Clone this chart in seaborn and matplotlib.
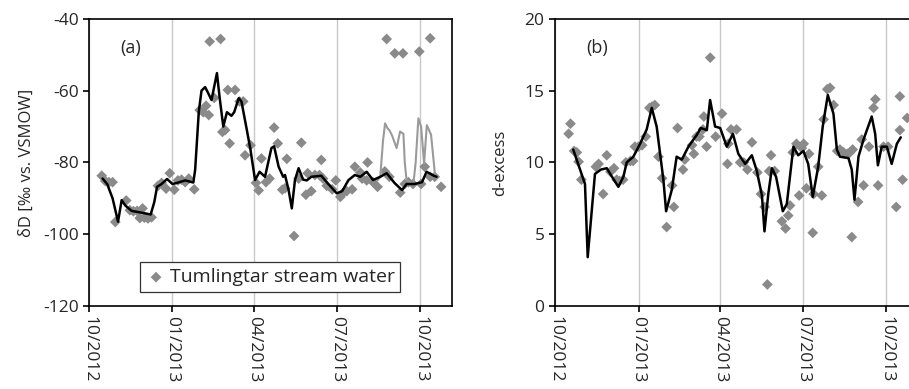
import pandas as pd
import seaborn as sns
import matplotlib.pyplot as plt
import matplotlib.dates as mdates

start = pd.Timestamp('2012-10-01')

# (a) dD stream water samples: days since 2012-10-01, value
pts_a_day = [14, 18, 22, 26, 29, 41, 45, 49, 53, 56, 59, 61, 65, 69, 76, 80, 85, 89, 94, 98,
             102, 106, 110, 116, 122, 126, 129, 132, 133, 138, 145, 147, 150, 155, 153, 161,
             170, 166, 172, 178, 184, 187, 190, 195, 199, 204, 208, 213, 216, 218, 226, 231,
             234, 239, 241, 245, 249, 254, 256, 258, 262, 268, 272, 277, 280, 284, 290, 293,
             299, 301, 307, 306, 313, 318, 326, 328, 331, 337, 346, 343, 348, 352, 357, 364,
             366, 370, 376, 376, 381, 388]
pts_a_val = [-83.7, -85.2, -85.5, -85.5, -96.6, -90.6, -93.3, -93.6, -93.5, -95.5, -92.8, -95.4,
             -95.6, -95.3, -86.5, -85.7, -87.3, -83.0, -87.6, -85.0, -84.8, -85.5, -84.5, -87.5,
             -65.4, -66.0, -64.2, -66.8, -46.3, -62.0, -45.6, -71.5, -71.0, -74.7, -59.8, -59.8,
             -63.0, -63.0, -78.0, -75.2, -85.7, -87.8, -78.9, -85.5, -84.5, -70.3, -74.7, -87.6,
             -87.2, -79.0, -100.5, -84.5, -74.5, -89.0, -83.0, -88.0, -83.5, -83.5, -79.3, -84.5,
             -86.5, -87.5, -85.0, -89.6, -88.5, -88.0, -87.5, -81.2, -82.8, -84.5, -80.0, -85.0,
             -85.5, -86.8, -82.5, -45.6, -84.0, -49.6, -49.6, -88.4, -86.0, -85.5, -86.0, -49.1,
             -86.0, -81.2, -45.4, -84.0, -84.0, -86.8]

# (a) modelled line
line_a_day = [15, 20, 26, 32, 36, 40, 47, 58, 68, 72, 75, 80, 86, 92, 97, 106, 115, 117, 121,
              124, 128, 131, 135, 141, 144, 148, 152, 157, 160, 165, 168, 174, 178, 183, 188,
              194, 201, 204, 209, 214, 216, 220, 223.5, 227, 231, 236, 240, 245, 256, 263, 273,
              279, 286, 293, 299, 306, 313, 321, 328, 337, 345, 350, 359, 367, 372, 380, 383]
line_a_val = [-84.5, -86, -90, -96.5, -90.5, -92, -93.5, -94, -94.5, -91, -86.8, -86, -84.6, -86,
              -85.7, -85, -85.6, -82, -65.9, -60, -59, -60.5, -62.6, -55.1, -62, -70, -66, -67,
              -66, -62.1, -63, -71, -76.5, -84.9, -82.6, -84, -76, -75.5, -81.2, -84, -83.5, -87.7,
              -92.8, -84.9, -81.6, -84.8, -85, -84, -83.7, -85.8, -88.6, -88, -84.9, -83.5, -84,
              -82.6, -84.9, -84, -83, -85.8, -87.7, -86, -86, -85.5, -82.6, -83.7, -84]

# (a) line including the enriched samples
alt_a_day = [318, 321, 324, 326.3, 329, 331, 334, 339, 342.8, 346.5, 348, 350, 357.5, 360,
             363, 366, 369.3, 372.3, 377, 381.5]
alt_a_val = [-85, -84, -74, -69.1, -70.5, -71, -72.5, -76, -71.4, -72, -80, -85, -86, -80,
             -67.7, -70, -80.3, -69.6, -72.3, -84]

# (b) d-excess samples
pts_b_day = [17, 15, 21, 24, 26, 29, 45, 48, 57, 53, 61, 65, 68, 71, 75, 78, 83, 86, 88, 92,
             96, 100, 104, 107, 110, 114, 118, 123, 131, 129, 135, 141, 143, 151, 153, 156, 159,
             163, 167, 171, 164, 177, 184, 191, 190, 194, 200, 204, 208, 212, 217, 223, 227, 231,
             234, 238, 236, 242, 250, 254, 257, 259, 269, 262, 266, 272, 274, 280, 277, 285, 284,
             290, 294, 296, 300, 303, 307, 311, 314, 318, 322, 325, 328, 334, 327, 338, 340, 346,
             351, 353, 356, 362, 367, 376, 380, 380, 383, 388]
pts_b_val = [12.7, 12.0, 10.8, 10.7, 10.05, 8.8, 9.7, 9.9, 10.5, 7.8, 9.35, 9.6, 8.8, 8.7, 8.8,
             10.0, 10.1, 10.1, 11.1, 11.1, 11.2, 11.8, 13.8, 13.9, 14.0, 10.4, 8.9, 5.5, 6.9, 8.4,
             12.4, 9.5, 10.2, 11.2, 10.6, 11.8, 11.8, 12.3, 11.1, 17.3, 13.2, 11.8, 13.4, 11.3,
             9.9, 12.3, 12.3, 10.0, 10.0, 9.5, 11.4, 9.3, 7.8, 6.9, 1.5, 10.5, 9.4, 9.4, 5.9, 5.4,
             6.3, 7.0, 7.7, 10.7, 11.3, 11.0, 11.3, 10.6, 8.2, 7.8, 5.1, 9.7, 7.7, 13.0, 15.1,
             15.2, 14.0, 10.8, 10.9, 10.7, 10.6, 10.7, 10.9, 7.25, 4.8, 11.6, 8.4, 11.1, 13.8,
             14.4, 8.4, 11.1, 11.1, 6.9, 14.6, 12.25, 8.8, 13.1]

# (b) modelled line
line_b_day = [20, 27.6, 33, 36, 44, 50.4, 57, 62.8, 69.8, 75.3, 79, 86.3, 93.7, 101, 106.6,
              112, 115.8, 119.4, 122.4, 128.7, 134, 139.7, 147, 156, 160.6, 167.3, 170.9, 176.4,
              182, 189.3, 196, 202, 209.5, 216.9, 222.4, 228, 230.8, 235, 239, 243.6, 251,
              255.4, 262.7, 268, 273.7, 279, 284, 290, 295, 300.6, 306.8, 310.6, 314, 323.4,
              327, 330, 334.4, 340, 349, 352.8, 355.8, 360, 365.7, 371, 376.7, 381]
line_b_val = [10.9, 9.5, 8.5, 3.4, 9.2, 9.5, 9.6, 9.0, 8.3, 9.0, 10.0, 10.4, 11.3, 12.3, 13.8,
              12.5, 10.6, 8.8, 6.6, 8.1, 10.4, 10.2, 11.1, 11.9, 12.4, 12.25, 14.35, 12.5, 12.4,
              11.1, 12.0, 10.6, 9.9, 10.5, 9.4, 7.7, 5.2, 7.8, 9.6, 9.0, 6.6, 7.1, 11.1, 10.5,
              10.8, 9.9, 7.6, 9.7, 12.5, 14.7, 13.4, 10.9, 10.4, 10.3, 9.5, 7.4, 10.4, 11.6,
              13.2, 12.0, 9.8, 11.1, 11.1, 9.9, 11.3, 11.75]


def to_df(days, vals):
    return pd.DataFrame({'date': start + pd.to_timedelta(days, unit='D'), 'value': vals})


sns.set_style("ticks")
plt.rcParams['font.family'] = ['Open Sans', 'DejaVu Sans']
plt.rcParams['axes.unicode_minus'] = False

fig = plt.figure(figsize=(9.09, 3.89), dpi=100)
ax1 = fig.add_axes([0.0979, 0.2134, 0.3993, 0.738])
ax2 = fig.add_axes([0.6106, 0.2134, 0.3993, 0.738])

pt_col = '#8a8a8a'

sns.lineplot(data=to_df(alt_a_day, alt_a_val), x='date', y='value', ax=ax1,
             color='#9a9a9a', lw=1.5, zorder=3)
sns.scatterplot(data=to_df(pts_a_day, pts_a_val), x='date', y='value', ax=ax1,
                marker='D', s=30, color=pt_col, edgecolor='none', zorder=2,
                label='Tumlingtar stream water')
sns.lineplot(data=to_df(line_a_day, line_a_val), x='date', y='value', ax=ax1,
             color='black', lw=1.8, zorder=4)

sns.scatterplot(data=to_df(pts_b_day, pts_b_val), x='date', y='value', ax=ax2,
                marker='D', s=30, color=pt_col, edgecolor='none', zorder=2)
sns.lineplot(data=to_df(line_b_day, line_b_val), x='date', y='value', ax=ax2,
             color='black', lw=1.8, zorder=4)

for ax, lab, ylab, lims, step in [(ax1, '(a)', 'δD [‰ vs. VSMOW]', (-120, -40), 20),
                                  (ax2, '(b)', 'd-excess', (0, 20), 5)]:
    ax.set_xlim(start, start + pd.Timedelta(days=400))
    ax.set_ylim(*lims)
    ax.set_yticks(range(lims[0], lims[1] + 1, step))
    ax.xaxis.set_major_locator(mdates.MonthLocator(bymonth=[1, 4, 7, 10]))
    ax.xaxis.set_major_formatter(mdates.DateFormatter('%m/%Y'))
    ax.grid(axis='x', color='#c8c8c8', lw=1)
    ax.set_axisbelow(True)
    for s in ax.spines.values():
        s.set_color('black')
        s.set_linewidth(1.2)
    ax.tick_params(axis='both', labelsize=12.5, length=4, width=1.2, color='black')
    ax.tick_params(axis='x', labelrotation=-90, pad=3)
    ax.set_xlabel('')
    ax.set_ylabel(ylab, fontsize=12)
    ax.text(0.085, 0.88, lab, transform=ax.transAxes, fontsize=13)

ax1.yaxis.labelpad = 6
ax2.yaxis.labelpad = 12

leg = ax1.legend(loc='center', bbox_to_anchor=(0.5, 0.1), fontsize=14, frameon=True,
                 fancybox=False, framealpha=1, edgecolor='#333333', handletextpad=0.2,
                 borderpad=0.3, handlelength=1.0)
leg.get_frame().set_linewidth(0.9)

fig.savefig('out.png', dpi=100)
